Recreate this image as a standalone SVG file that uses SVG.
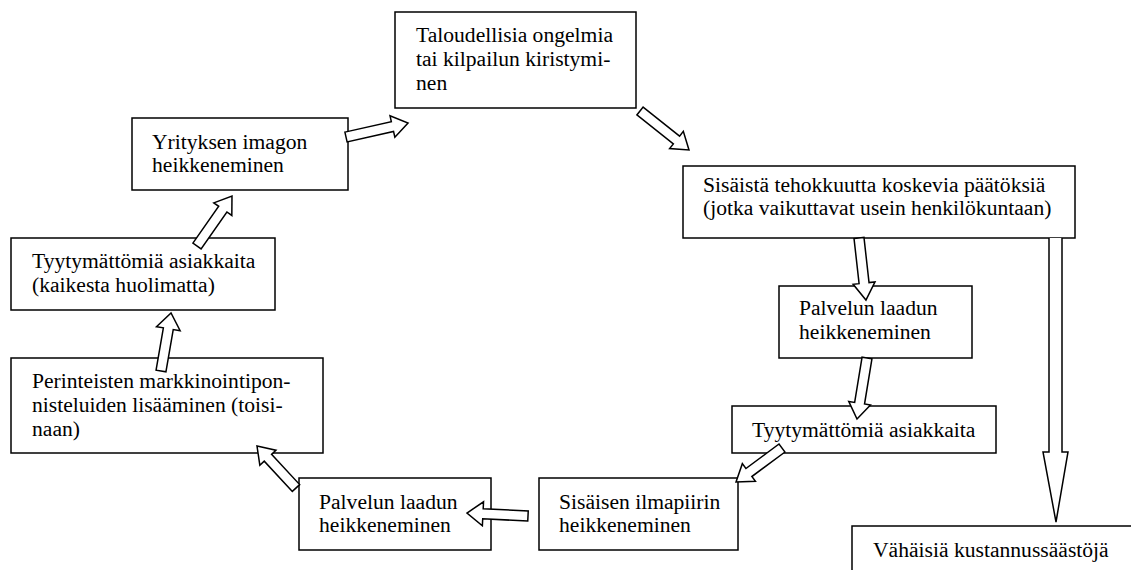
<svg xmlns="http://www.w3.org/2000/svg" width="1131" height="570" viewBox="0 0 1131 570">
<style>
.box{fill:#fff;stroke:#000;stroke-width:1.5}
.arr{fill:#fff;stroke:#000;stroke-width:1.5;stroke-linejoin:miter}
text{font-size:21.6px;fill:#000;font-family:"Liberation Serif","Times New Roman",serif}
</style>
<rect width="1131" height="570" fill="#fff"/>
<g id="n1"><rect class="box" x="395" y="12" width="241" height="96"/>
<text x="416" y="42">Taloudellisia ongelmia</text><text x="416" y="66">tai kilpailun kiristymi-</text><text x="416" y="90">nen</text></g>
<g id="n2"><rect class="box" x="132" y="118" width="216" height="72"/>
<text x="152" y="149">Yrityksen imagon</text><text x="152" y="172">heikkeneminen</text></g>
<g id="n3"><rect class="box" x="683" y="166" width="392" height="72"/>
<text x="703" y="192">Sisäistä tehokkuutta koskevia päätöksiä</text><text x="703" y="215">(jotka vaikuttavat usein henkilökuntaan)</text></g>
<g id="n4"><rect class="box" x="11" y="238" width="264" height="72"/>
<text x="32" y="268">Tyytymättömiä asiakkaita</text><text x="32" y="292">(kaikesta huolimatta)</text></g>
<g id="n5"><rect class="box" x="11" y="358" width="312" height="95"/>
<text x="32" y="388">Perinteisten markkinointipon-</text><text x="32" y="412">nisteluiden lisääminen (toisi-</text><text x="32" y="436">naan)</text></g>
<g id="n6"><rect class="box" x="779" y="286" width="193" height="72"/>
<text x="799" y="315">Palvelun laadun</text><text x="799" y="339">heikkeneminen</text></g>
<g id="n7"><rect class="box" x="732" y="406" width="264" height="47"/>
<text x="752" y="437">Tyytymättömiä asiakkaita</text></g>
<g id="n8"><rect class="box" x="539" y="478" width="199" height="72"/>
<text x="559" y="509">Sisäisen ilmapiirin</text><text x="559" y="532">heikkeneminen</text></g>
<g id="n9"><rect class="box" x="299" y="478" width="192" height="72"/>
<text x="319" y="509">Palvelun laadun</text><text x="319" y="532">heikkeneminen</text></g>
<g id="n10"><rect class="box" x="852" y="526" width="290" height="60"/>
<text x="873" y="557">Vähäisiä kustannussäästöjä</text></g>
<g id="connectors">
<path class="arr" transform="translate(346,137) rotate(-12.7)" d="M0,-5 H47.6 V-11 L63.6,0 L47.6,11 V5 H0 Z"/>
<path class="arr" transform="translate(640,111) rotate(38.5)" d="M0,-5 H46.6 V-11 L62.6,0 L46.6,11 V5 H0 Z"/>
<path class="arr" transform="translate(859,238) rotate(83.6)" d="M0,-5 H45.4 V-11 L62.4,0 L45.4,11 V5 H0 Z"/>
<path class="arr" transform="translate(867,358) rotate(99.3)" d="M0,-5 H45.8 V-11 L61.8,0 L45.8,11 V5 H0 Z"/>
<path class="arr" transform="translate(782,448) rotate(143.5)" d="M0,-5 H41.2 V-11 L57.2,0 L41.2,11 V5 H0 Z"/>
<path class="arr" transform="translate(528,516) rotate(182.8)" d="M0,-5 H45.1 V-12 L61.1,0 L45.1,12 V5 H0 Z"/>
<path class="arr" transform="translate(296,488) rotate(227.1)" d="M0,-5 H41.3 V-11 L57.3,0 L41.3,11 V5 H0 Z"/>
<path class="arr" transform="translate(161,371) rotate(-80.2)" d="M0,-5 H42.9 V-12 L58.9,0 L42.9,12 V5 H0 Z"/>
<path class="arr" transform="translate(197,246) rotate(-55)" d="M0,-5 H45 V-11 L61,0 L45,11 V5 H0 Z"/>
<path class="arr" d="M1049,238 V452 H1043 L1056,522 L1068,452 H1062 V238"/>
</g>
</svg>
